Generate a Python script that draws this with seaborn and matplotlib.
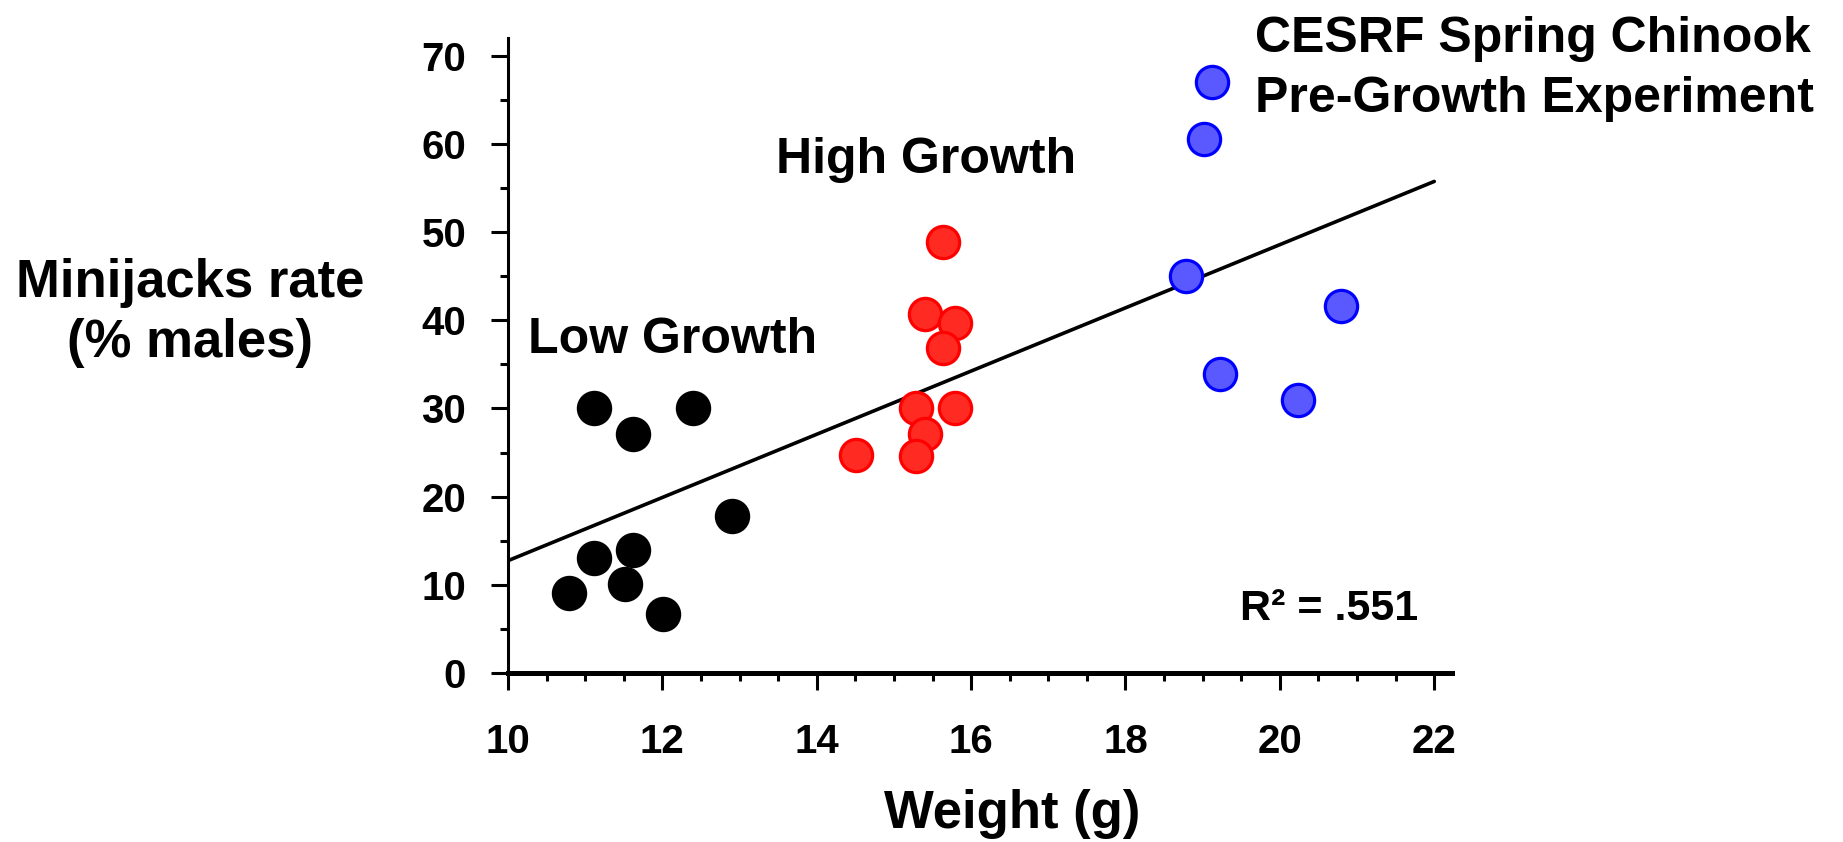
import numpy as np
import pandas as pd
import matplotlib
matplotlib.use("Agg")
import matplotlib.pyplot as plt
import seaborn as sns
from matplotlib.ticker import MultipleLocator

# Weight (g) and minijack rate (% of males) per rearing group
low_weight = [11.12, 11.62, 12.40, 12.90, 11.12, 11.62, 10.79, 11.52, 12.01]
low_rate = [30.0, 27.1, 30.0, 17.8, 13.0, 13.9, 9.1, 10.1, 6.65]
high_weight = [15.63, 15.40, 15.79, 15.63, 15.28, 15.79, 15.40, 15.28, 14.51]
high_rate = [48.9, 40.7, 39.7, 36.8, 30.0, 30.0, 27.1, 24.6, 24.7]
pre_weight = [19.12, 19.02, 18.79, 20.79, 19.23, 20.24]
pre_rate = [67.0, 60.6, 45.0, 41.6, 33.9, 31.0]

group_names = ["Low Growth", "High Growth", "Pre-Growth"]
x_ticks = [10, 12, 14, 16, 18, 20, 22]
y_ticks = [0, 10, 20, 30, 40, 50, 60, 70]
r2_label = "R\u00b2 = .551"
title_lines = ["CESRF Spring Chinook", "Pre-Growth Experiment"]
ylabel_lines = ["Minijacks rate", "(% males)"]
xlabel = "Weight (g)"

df = pd.DataFrame({
    "weight": low_weight + high_weight + pre_weight,
    "rate": low_rate + high_rate + pre_rate,
    "group": [group_names[0]] * len(low_weight)
    + [group_names[1]] * len(high_weight)
    + [group_names[2]] * len(pre_weight),
})

sns.set_theme(style="ticks")
plt.rcParams["font.family"] = ["Liberation Sans", "DejaVu Sans"]
plt.rcParams["font.weight"] = "bold"

W, H = 1843, 842
fig = plt.figure(figsize=(W / 100, H / 100), dpi=100)
ax = fig.add_axes([508 / W, 1 - 673 / H, (1452 - 508) / W, (673 - 38) / H])

# Least-squares trend over all fish groups
slope, intercept = np.polyfit(df["weight"], df["rate"], 1)
line_x = np.array([x_ticks[0], x_ticks[-1]], dtype=float)
sns.lineplot(x=line_x, y=intercept + slope * line_x, color="black",
             linewidth=2.6, ax=ax, zorder=2)

styles = {
    "Low Growth": dict(color="black", edgecolor="black", linewidth=1.0, s=600),
    "High Growth": dict(color="#ff2a22", edgecolor="#ff0000", linewidth=2.3, s=540),
    "Pre-Growth": dict(color="#5a58ff", edgecolor="#0000ff", linewidth=2.3, s=540),
}
for g in group_names:
    sns.scatterplot(data=df[df["group"] == g], x="weight", y="rate",
                    ax=ax, zorder=3, legend=False, clip_on=False, **styles[g])

ax.set_xlim(10, 22.23)
ax.set_ylim(0, 72)
ax.set_xticks(x_ticks)
ax.set_yticks(y_ticks)
ax.xaxis.set_minor_locator(MultipleLocator(0.5))
ax.yaxis.set_minor_locator(MultipleLocator(5))
ax.set_xlabel("")
ax.set_ylabel("")

for side in ["top", "right"]:
    ax.spines[side].set_visible(False)
ax.spines["left"].set_linewidth(2.2)
ax.spines["bottom"].set_linewidth(3.6)
ax.spines["left"].set_color("black")
ax.spines["bottom"].set_color("black")

ax.tick_params(which="major", direction="out", length=12.2, width=2.2,
               color="black", labelsize=29, labelcolor="black")
ax.tick_params(which="minor", direction="out", length=6, width=2.2, color="black")
ax.tick_params(axis="y", which="major", pad=18)
ax.tick_params(axis="x", which="major", pad=24)
for lab in ax.get_xticklabels() + ax.get_yticklabels():
    lab.set_fontweight("bold")

def ftext(px, py, s, **kw):
    fig.text(px / W, 1 - py / H, s, va="baseline", color="black",
             fontweight="bold", **kw)

ftext(190, 297, ylabel_lines[0], fontsize=38, ha="center")
ftext(190, 357, ylabel_lines[1], fontsize=38, ha="center")
ftext(1012, 828, xlabel, fontsize=38, ha="center")
ftext(528, 353, group_names[0], fontsize=36, ha="left")
ftext(776, 173, group_names[1], fontsize=36, ha="left")
ftext(1255, 52, title_lines[0], fontsize=36, ha="left")
ftext(1255, 112, title_lines[1], fontsize=36, ha="left")
ftext(1240, 620, r2_label, fontsize=31, ha="left")

fig.savefig("out.png", dpi=100, facecolor="white")
